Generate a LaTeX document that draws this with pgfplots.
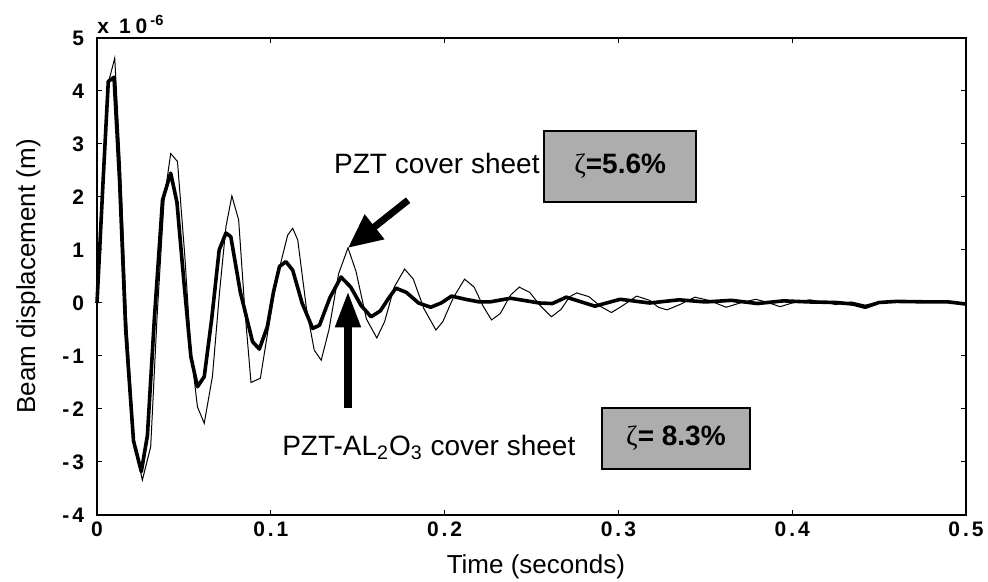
\documentclass[border=0pt]{standalone}
\usepackage{fontspec}
\setmainfont{Liberation Sans}
\newfontfamily\tickfont[LetterSpace=14]{Liberation Sans}
\newfontfamily\zetafont{Liberation Serif}
\usepackage{pgfplots}
\pgfplotsset{compat=1.18}
\usetikzlibrary{arrows.meta}
\definecolor{boxgray}{gray}{0.68}

\begin{document}
\begin{tikzpicture}
\begin{axis}[
  at={(0,0)}, anchor=south west,
  scale only axis, width=434.5pt, height=238.5pt,
  xmin=0, xmax=0.5, ymin=-4, ymax=5,
  xtick={0,0.1,0.2,0.3,0.4,0.5},
  xticklabels={0,0.1,0.2,0.3,0.4,0.5},
  ytick={-4,-3,-2,-1,0,1,2,3,4,5},
  yticklabels={-4,-3,-2,-1,0,1,2,3,4,5},
  tick align=inside, major tick length=2.5pt,
  tick style={black, line width=0.5pt},
  axis line style={line width=0.6pt},
  ticklabel style={font=\tickfont\bfseries\fontsize{10.5}{12}\selectfont},
  yticklabel style={xshift=-3pt},
  label style={font=\fontsize{13}{15}\selectfont},
  xlabel={Time (seconds)}, ylabel={Beam displacement (m)},
  xlabel style={at={(axis description cs:0.505,-0.109)}, anchor=center},
  ylabel style={at={(axis description cs:-0.079,0.5)}, anchor=center},
  clip=false,
]
% PZT cover sheet (thin)
\addplot[black, line width=0.5pt] coordinates {
(0,0)(0.0035,2.3)(0.0065,4.15)(0.0102,4.62)(0.0135,2.6)(0.017,-0.3)(0.0213,-2.62)
(0.0261,-3.34)(0.0309,-2.71)(0.0345,-0.3)(0.0386,1.94)(0.0424,2.82)(0.0463,2.67)
(0.0505,0.9)(0.054,-0.9)(0.0578,-1.96)(0.0617,-2.27)(0.0664,-1.39)(0.0705,0.2)
(0.0742,1.44)(0.0776,2.02)(0.0815,1.57)(0.085,-0.1)(0.0886,-1.5)(0.094,-1.42)
(0.098,-0.6)(0.103,0.4)(0.1097,1.28)(0.1126,1.41)(0.1155,1.19)(0.1205,-0.1)
(0.125,-0.89)(0.129,-1.08)(0.1335,-0.5)(0.139,0.55)(0.1444,1.04)(0.149,0.6)
(0.155,-0.3)(0.161,-0.66)(0.1655,-0.35)(0.171,0.3)(0.177,0.64)(0.182,0.45)
(0.188,-0.1)(0.195,-0.51)(0.199,-0.35)(0.205,0.1)(0.2115,0.45)(0.217,0.3)
(0.222,-0.05)(0.227,-0.32)(0.232,-0.2)(0.238,0.15)(0.243,0.30)(0.249,0.2)
(0.255,-0.05)(0.2615,-0.26)(0.267,-0.12)(0.272,0.12)(0.276,0.19)(0.283,0.12)
(0.29,-0.07)(0.296,-0.18)(0.302,-0.06)(0.3105,0.13)(0.318,0.05)(0.323,-0.08)
(0.328,-0.13)(0.336,-0.02)(0.344,0.11)(0.352,0.05)(0.362,-0.08)(0.37,0.0)
(0.379,0.07)(0.386,0.01)(0.393,-0.07)(0.40,0.0)(0.41,0.06)(0.418,0.02)
(0.425,-0.03)(0.434,0.02)(0.442,-0.04)(0.45,0.02)(0.46,0.03)(0.47,0.02)
(0.48,0.01)(0.49,0.02)(0.5,-0.02)
};
% PZT-AL2O3 cover sheet (thick)
\addplot[black, line width=1.8pt, line join=round] coordinates {
(0,0)(0.0035,2.3)(0.0065,4.18)(0.0098,4.26)(0.013,2.3)(0.0165,-0.5)(0.021,-2.6)
(0.0255,-3.18)(0.029,-2.5)(0.033,-0.3)(0.0377,1.94)(0.0424,2.45)(0.046,1.9)
(0.05,0.4)(0.054,-1.01)(0.0578,-1.58)(0.0617,-1.39)(0.066,-0.3)(0.0703,1.0)
(0.0742,1.32)(0.077,1.25)(0.0825,0.2)(0.0895,-0.73)(0.0934,-0.87)(0.098,-0.45)
(0.1015,0.2)(0.105,0.69)(0.1087,0.78)(0.1126,0.62)(0.118,0.0)(0.1241,-0.48)
(0.128,-0.42)(0.134,0.1)(0.1404,0.49)(0.146,0.3)(0.152,-0.05)(0.1577,-0.26)
(0.163,-0.15)(0.168,0.1)(0.172,0.28)(0.178,0.2)(0.185,0.0)(0.192,-0.08)
(0.198,0.0)(0.204,0.13)(0.212,0.07)(0.22,0.02)(0.226,0.02)(0.238,0.09)
(0.2545,0.0)(0.262,-0.01)(0.27,0.11)(0.2865,-0.06)(0.301,0.07)(0.318,0.0)
(0.335,0.06)(0.35,0.02)(0.365,0.05)(0.38,-0.01)(0.395,0.04)(0.41,0.02)
(0.425,0.01)(0.435,-0.02)(0.442,-0.08)(0.45,0.01)(0.46,0.03)(0.48,0.02)
(0.49,0.02)(0.5,-0.02)
};
% annotations
\node[anchor=base west, inner sep=0, font=\bfseries\fontsize{10.5}{12}\selectfont] at (axis cs:0,5.09) {x\hspace{5pt}1\hspace{2.5pt}0\textsuperscript{\hspace{1.5pt}-6}};
\draw[line width=1.4pt, fill=boxgray] (axis cs:0.2572,3.245) rectangle (axis cs:0.3447,1.906);
\node[font=\fontsize{14}{16}\selectfont\bfseries] at (axis cs:0.3010,2.575) {{\zetafont\mdseries ζ}=5.6\%};
\draw[line width=1.4pt, fill=boxgray] (axis cs:0.2906,-1.981) rectangle (axis cs:0.3757,-3.132);
\node[font=\fontsize{14}{16}\selectfont\bfseries] at (axis cs:0.3331,-2.556) {{\zetafont\mdseries ζ}= 8.3\%};
\node[anchor=base east, inner sep=0, font=\fontsize{14}{16}\selectfont] at (axis cs:0.2549,2.45) {PZT cover sheet};
\node[anchor=base west, inner sep=0, font=\fontsize{14}{16}\selectfont] at (axis cs:0.1064,-2.87) {PZT-AL\textsubscript{2}O\textsubscript{3} cover sheet};
\draw[line width=3.5pt, -{Triangle[length=17pt,width=15pt]}] (axis cs:0.179,1.94) -- (axis cs:0.1444,1.04);
\draw[line width=3.8pt, -{Triangle[length=18pt,width=12pt]}] (axis cs:0.1444,-1.98) -- (axis cs:0.1444,0.22);
\end{axis}
\pgfresetboundingbox
\path[use as bounding box] (-48.5pt,-33.5pt) rectangle (445.5pt,257.5pt);
\end{tikzpicture}
\end{document}
